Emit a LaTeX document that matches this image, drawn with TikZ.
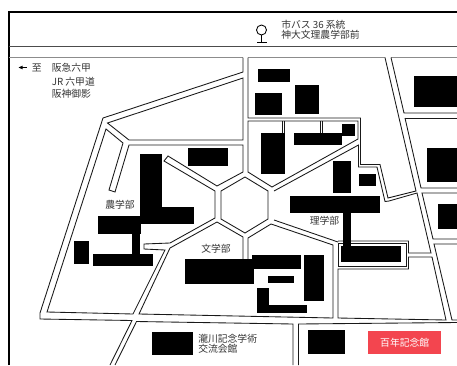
\documentclass[tikz,border=0pt]{standalone}
\usepackage{fontspec}
\setmainfont{Noto Sans CJK JP}
\definecolor{lbl}{HTML}{333333}
\definecolor{redbox}{HTML}{F3454F}
\tikzset{
  road/.style={draw=black!90,line width=0.65pt,line join=miter},
  frameline/.style={draw=black,line width=0.9pt},
  bldg/.style={fill=black,draw=none},
  lbl/.style={font=\fontsize{7.35pt}{8pt}\selectfont,text=lbl,inner sep=0pt,anchor=west},
}
\begin{document}
\begin{tikzpicture}[x=0.75pt,y=-0.75pt]
\useasboundingbox (0,0) rectangle (457,365);
\begin{scope}
\clip (0,0) rectangle (457,365);
% frame
\draw[frameline] (9,365) -- (9,12) -- (457,12);
\draw[draw=black!70,line width=0.6pt] (9,46) -- (457,46);
\draw[draw=black!45,line width=0.7pt] (9,57.5) -- (243,57.5);
\draw[draw=black!45,line width=0.7pt] (248,57.5) -- (385,57.5);
\draw[draw=black!45,line width=0.7pt] (391,57.5) -- (457,57.5);
% roads
\draw[road] (243,57.5) -- (243,72) -- (103,118) -- (40,313) -- (40,319) -- (132,320.5) -- (110,365);
\draw[road] (243,78) -- (107.5,123) -- (129,140) -- (243,140) -- cycle;
\draw[road] (129,145) -- (243,145) -- (243,172) -- (217,186) -- (168,156) -- (164,161) -- (215,191) -- (215,218) -- (170,243) -- (144,244) -- (144,249) -- (165,250) -- (133,314) -- (47,312) -- (106,129) -- (123,143) -- (109,190) -- (115,192) -- cycle;
\draw[road] (243,262) -- (243,237) -- (217,222) -- (170,248) -- (139,314) -- (333,318) -- (333,245) -- (271,224) -- (248,238) -- (248,262);
\draw[road] (115,365) -- (136.5,321.5) -- (293,324) -- (293,365);
\draw[road] (298.5,365) -- (298.5,324) -- (457,322.5);
\draw[road] (245,177) -- (268,191) -- (268,219) -- (245,233) -- (221,219) -- (221,191) -- cycle;
\draw[road] (248,57.5) -- (248,118) -- (360.5,118) -- (360.5,164.5) -- (380,164.5) -- (388,198) -- (416,191) -- (385,57.5);
\draw[road] (248,121) -- (358,121) -- (358,139) -- (272,187) -- (248,172) -- cycle;
\draw[road] (282,121) -- (282,135) (284.5,121) -- (284.5,135) (320.5,121) -- (320.5,135) (322.5,121) -- (322.5,135);
\draw[road] (274,191) -- (358.5,145) -- (358.5,167) -- (377,167) -- (385,201.5) -- (389,201) -- (417,193) -- (431,253) -- (408.5,253) -- (408.5,241) -- (338,241) (338,242) -- (274,220) -- cycle;
\draw[road] (338,243.5) -- (406,243.5) -- (406,266) -- (338,266) -- cycle;
\draw[road] (338,269) -- (338,318) -- (446,320) -- (432,257) -- (408.5,257) -- (408.5,269) -- cycle;
\draw[road] (391,57.5) -- (404,113) -- (457,113);
\draw[road] (405,118) -- (421,188) -- (457,188);
\draw[road] (457,118) -- (405,118);
\draw[road] (457,193) -- (422,193) -- (433,239) -- (457,239);
\draw[road] (457,244) -- (434,244) -- (452,320) -- (457,320);
% buildings
\fill[bldg] (258.3,69.3) rectangle (289.7,81.7);
\fill[bldg] (254.7,93.3) rectangle (282,115);
\fill[bldg] (295.3,84.7) rectangle (319,114);
\fill[bldg] (414,76) rectangle (457,107.3);
\fill[bldg] (261.3,133.3) rectangle (284.7,174.3);
\fill[bldg] (294,132.7) rectangle (342.3,145);
\fill[bldg] (342.3,123.7) rectangle (354.7,136);
\fill[bldg] (427.3,148.3) rectangle (457,182.3);
\fill[bldg] (333.3,160.7) rectangle (351.3,192.7);
\fill[bldg] (359,174.3) rectangle (376.3,186);
\fill[bldg] (290.3,195.7) rectangle (380.3,213.3);
\fill[bldg] (343,213) rectangle (350.7,247);
\fill[bldg] (341.3,246) rectangle (401.3,261.7);
\fill[bldg] (438,204) rectangle (457,229);
\fill[bldg] (185,259) rectangle (254,284);
\fill[bldg] (252,255.3) rectangle (300.7,269);
\fill[bldg] (304,255) rectangle (323.7,301);
\fill[bldg] (268,276) rectangle (293.7,283.3);
\fill[bldg] (257,287.7) rectangle (269,313.3);
\fill[bldg] (257,305) rectangle (307,313.3);
\fill[bldg] (151.7,331.7) rectangle (193.3,355);
\fill[bldg] (308,330) rectangle (344.7,354.3);
\fill[bldg] (140,154) rectangle (161.7,224.3);
\fill[bldg] (161,206.7) rectangle (194.3,224.3);
\fill[bldg] (98.3,216) rectangle (140.5,234.3);
\fill[bldg] (132.3,234) rectangle (140,254.5);
\fill[bldg] (92.7,254) rectangle (153.3,265.7);
\fill[bldg] (74,240.7) rectangle (89,264);
\fill[bldg] (187.7,148) rectangle (228.3,166);
\end{scope}
% bus stop
\draw[draw=black,line width=0.65pt] (261.5,30) circle[radius=5];
\draw[draw=black,line width=0.65pt] (261.5,35) -- (261.5,42);
\draw[draw=black,line width=0.65pt] (257,42) -- (267,42);
% texts
\node[lbl] (bus1) at (281,24.5) {市バス 36 系統};
\node[lbl] (bus2) at (281,35) {神大文理農学部前};
\fill[black] (18.5,67.5) -- (22.5,65.7) -- (22.5,69.3) -- cycle;
\draw[draw=black,line width=0.6pt] (22,67.5) -- (27,67.5);
\node[lbl] (to) at (31.5,68) {至};
\node[lbl] (st1) at (51.5,68) {阪急六甲};
\node[lbl] (st2) at (51.5,81.5) {JR 六甲道};
\node[lbl] (st3) at (51.5,94) {阪神御影};
\node[lbl] (nou) at (105,204.5) {農学部};
\node[lbl] (bun) at (201,249) {文学部};
\node[lbl] (ri) at (309.5,221) {理学部};
\node[lbl] (tk1) at (198,338.5) {瀧川記念学術};
\node[lbl] (tk2) at (198,349) {交流会館};
\node[fill=redbox,minimum width=55pt,minimum height=17.7pt,inner sep=0pt,text=white,font=\fontsize{7.35pt}{8pt}\selectfont] (hy) at (404.7,342.5) {百年記念館};
\end{tikzpicture}
\end{document}
